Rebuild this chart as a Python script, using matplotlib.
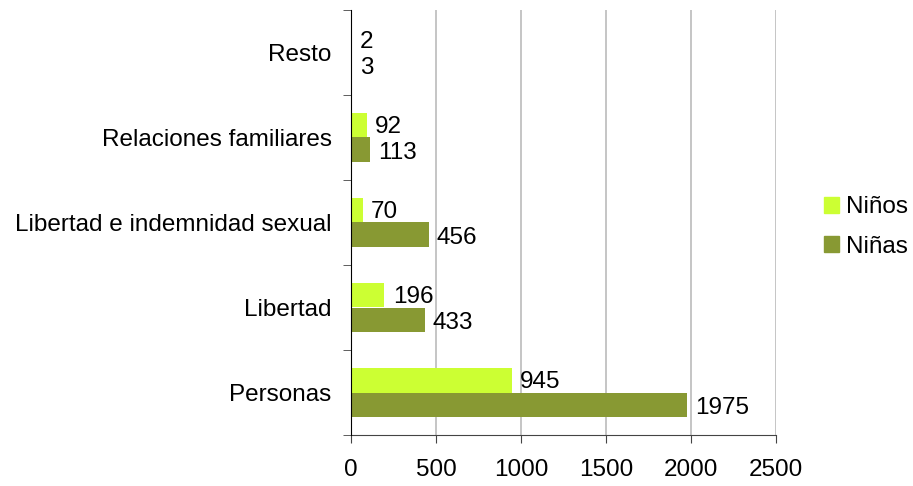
import matplotlib
matplotlib.use("Agg")
import matplotlib.pyplot as plt
import numpy as np
from matplotlib.ticker import FixedLocator
from matplotlib.patches import Patch

categories = ["Personas", "Libertad", "Libertad e indemnidad sexual", "Relaciones familiares", "Resto"]
ninos = [945, 196, 70, 92, 2]
ninas = [1975, 433, 456, 113, 3]
series_names = ["Niños", "Niñas"]
colors = ["#CCFF33", "#889933"]
xticks = [0, 500, 1000, 1500, 2000, 2500]

plt.rcParams['font.family'] = ['Liberation Sans', 'DejaVu Sans']
FS = 17.5

fig = plt.figure(figsize=(9.13, 4.86), dpi=100)
ax = fig.add_axes([351/913, 1-435/486, 425/913, 425/486])

y = np.arange(len(categories))
h = 0.29
ax.barh(y + h/2, ninos, height=h, color=colors[0], zorder=3)
ax.barh(y - h/2, ninas, height=h, color=colors[1], zorder=3)

for yi, v in zip(y + h/2, ninos):
    ax.annotate(str(v), (v, yi), xytext=(6, -1), textcoords="offset points",
                va="center", ha="left", fontsize=FS)
for yi, v in zip(y - h/2, ninas):
    ax.annotate(str(v), (v, yi), xytext=(6, -2), textcoords="offset points",
                va="center", ha="left", fontsize=FS)

ax.set_xlim(0, 2500)
ax.set_ylim(-0.5, len(categories) - 0.5)
ax.set_xticks(xticks)
ax.set_xticklabels([str(t) for t in xticks], fontsize=FS)
ax.tick_params(axis='x', length=6, pad=11, color="#444444")
ax.set_yticks(y)
ax.set_yticklabels(categories, fontsize=FS)
ax.tick_params(axis='y', which='major', length=0, pad=14)
ax.yaxis.set_minor_locator(FixedLocator(np.arange(-0.5, len(categories), 1.0)))
ax.tick_params(axis='y', which='minor', length=6, color="#444444")

ax.grid(axis='x', color="#BBBBBB", linewidth=1.2, zorder=0)
for s in ["top", "right"]:
    ax.spines[s].set_visible(False)
ax.spines["left"].set_color("black")
ax.spines["bottom"].set_color("#444444")
ax.spines["left"].set_zorder(4)

handles = [Patch(color=colors[0]), Patch(color=colors[1])]
fig.legend(handles, series_names, loc="center left", bbox_to_anchor=(824/913, 1-227/486),
           frameon=False, fontsize=FS, handlelength=0.6, handleheight=0.6,
           handletextpad=0.3, labelspacing=0.7, borderaxespad=0, borderpad=0)

fig.savefig("out.png", dpi=100)
